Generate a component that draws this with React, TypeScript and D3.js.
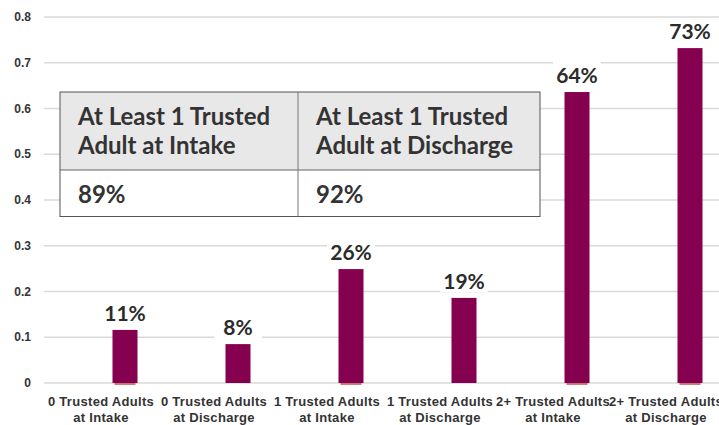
import React from "react";
import * as d3 from "d3";

const categories: string[][] = [
  ["0 Trusted Adults", "at Intake"],
  ["0 Trusted Adults", "at Discharge"],
  ["1 Trusted Adults", "at Intake"],
  ["1 Trusted Adults", "at Discharge"],
  ["2+ Trusted Adults", "at Intake"],
  ["2+ Trusted Adults", "at Discharge"],
];
const values: number[] = [0.116, 0.085, 0.249, 0.186, 0.636, 0.732];
const valueLabels: string[] = ["11%", "8%", "26%", "19%", "64%", "73%"];
const baselineMarks: boolean[] = [true, false, true, false, true, true];
const yTicks: number[] = [0, 0.1, 0.2, 0.3, 0.4, 0.5, 0.6, 0.7, 0.8];
const tableHeaders: string[][] = [
  ["At Least 1 Trusted", "Adult at Intake"],
  ["At Least 1 Trusted", "Adult at Discharge"],
];
const tableValues: string[] = ["89%", "92%"];

const W = 719;
const H = 425;

export default function App() {
  const y = d3.scaleLinear().domain([0, 0.8]).range([383, 17]);
  const x = d3
    .scaleBand<number>()
    .domain(categories.map((_, i) => i))
    .range([68.5, 746.5])
    .paddingInner(0.78)
    .paddingOuter(0.39);
  const bw = 25;
  const font = "Lato, 'Open Sans', sans-serif";
  const tblX = [60, 298, 540];
  const tblY = [92, 170, 216.5];
  return (
    <div style={{ position: "absolute", left: 0, top: 0 }}>
      <svg width={W} height={H} style={{ display: "block" }}>
        <rect width={W} height={H} fill="#fff" />
        {yTicks.map((t) => (
          <g key={t}>
            <line x1={44} x2={719} y1={y(t)} y2={y(t)} stroke="#d9d9d9" strokeWidth={1.3} />
            <text
              x={31}
              y={y(t)}
              dy="0.35em"
              textAnchor="end"
              fontFamily="'Liberation Sans', Arial, sans-serif"
              fontWeight={700}
              fontSize={12}
              fill="#333"
            >
              {t === 0 ? "0" : d3.format(".1f")(t)}
            </text>
          </g>
        ))}
        {values.map((v, i) => {
          const cx = (x(i) as number) + x.bandwidth() / 2;
          return (
            <g key={i}>
              <rect x={cx - bw / 2} y={y(v)} width={bw} height={y(0) - y(v)} fill="#85004e" />
              {baselineMarks[i] && (
                <line x1={cx - 10.5} x2={cx + 10.5} y1={y(0) + 1} y2={y(0) + 1} stroke="#c0504d" strokeWidth={1.5} />
              )}
              <rect x={cx - 24} y={y(v) - 30} width={48} height={24} fill="#fff" />
              <text
                x={cx}
                y={y(v) - 9}
                textAnchor="middle"
                fontFamily={font}
                fontWeight={700}
                fontSize={21}
                fill="#2b2b2b"
              >
                {valueLabels[i]}
              </text>
              {categories[i].map((line, j) => (
                <text
                  key={j}
                  x={cx - 24}
                  y={406 + j * 16}
                  textAnchor="middle"
                  fontFamily="'Liberation Sans', Arial, sans-serif"
                  fontWeight={700}
                  fontSize={13}
                  letterSpacing={0.3}
                  fill="#333"
                >
                  {line}
                </text>
              ))}
            </g>
          );
        })}
        <g>
          <rect x={tblX[0]} y={tblY[0]} width={tblX[2] - tblX[0]} height={tblY[1] - tblY[0]} fill="#e8e8e9" />
          <rect x={tblX[0]} y={tblY[1]} width={tblX[2] - tblX[0]} height={tblY[2] - tblY[1]} fill="#fff" />
          <rect
            x={tblX[0]}
            y={tblY[0]}
            width={tblX[2] - tblX[0]}
            height={tblY[2] - tblY[0]}
            fill="none"
            stroke="#555"
            strokeWidth={1}
          />
          <line x1={tblX[0]} x2={tblX[2]} y1={tblY[1]} y2={tblY[1]} stroke="#666" strokeWidth={1} />
          <line x1={tblX[1]} x2={tblX[1]} y1={tblY[0]} y2={tblY[2]} stroke="#777" strokeWidth={1} />
          {tableHeaders.map((lines, c) => (
            <g key={c}>
              {lines.map((l, j) => (
                <text
                  key={j}
                  x={tblX[c] + 18}
                  y={125 + j * 29}
                  fontFamily={font}
                  fontWeight={700}
                  fontSize={24}
                  fill="#333"
                >
                  {l}
                </text>
              ))}
              <text x={tblX[c] + 18} y={203} fontFamily={font} fontWeight={700} fontSize={24} fill="#333">
                {tableValues[c]}
              </text>
            </g>
          ))}
        </g>
      </svg>
    </div>
  );
}
